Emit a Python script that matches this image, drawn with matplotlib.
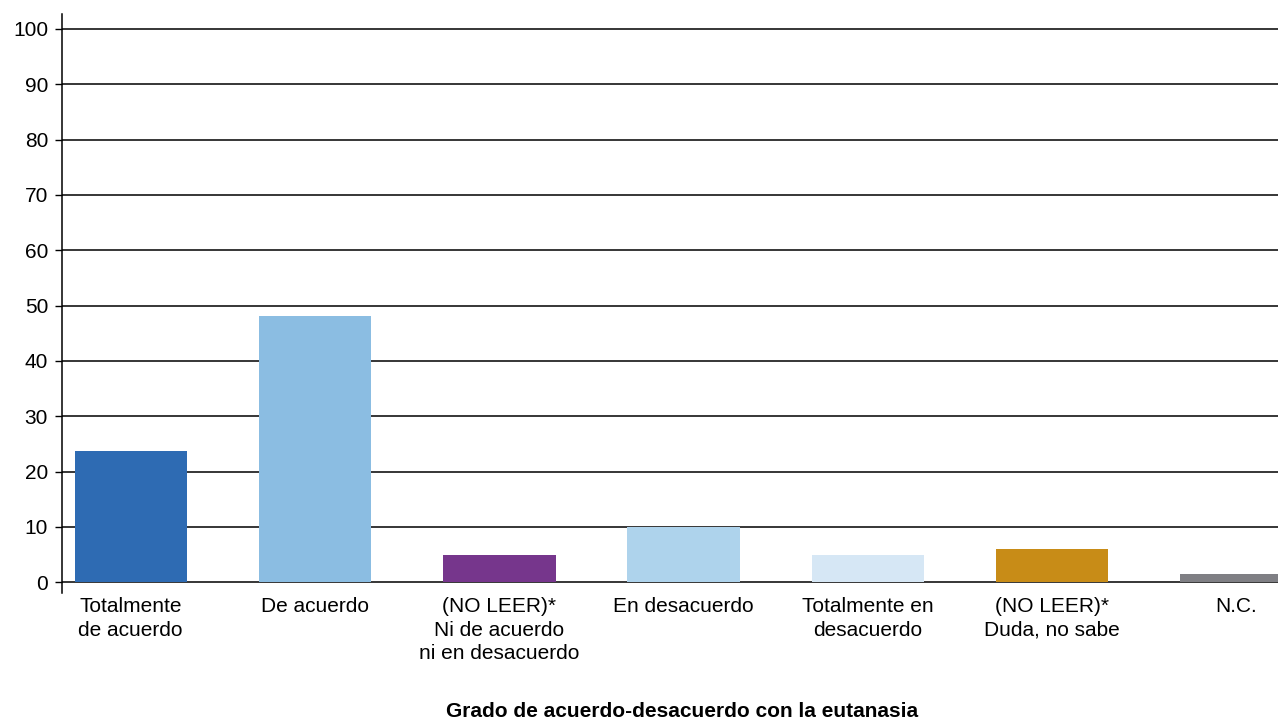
import matplotlib.pyplot as plt

plt.rcParams['font.family'] = ['Liberation Sans', 'DejaVu Sans']

categorias = ["Totalmente\nde acuerdo", "De acuerdo", "(NO LEER)*\nNi de acuerdo\nni en desacuerdo",
              "En desacuerdo", "Totalmente en\ndesacuerdo", "(NO LEER)*\nDuda, no sabe", "N.C."]
valores = [23.8, 48.2, 5.0, 9.9, 5.0, 6.0, 1.5]
colores = ["#2E6BB3", "#8BBDE2", "#76368C", "#AED3EC", "#D6E7F5", "#C88C17", "#7F7F84"]
yticks = [0, 10, 20, 30, 40, 50, 60, 70, 80, 90, 100]

fig = plt.figure(figsize=(12.78, 7.2), dpi=100)
ax = fig.add_axes([0.0485, 0.176, 0.9515, 0.8046])

x = range(len(categorias))
ax.bar(x, valores, width=0.61, color=colores, zorder=3)

ax.set_xlim(-0.373, 6.225)
ax.set_ylim(-2, 102.7)
ax.set_yticks(yticks)
ax.set_xticks(list(x))
ax.set_xticklabels(categorias, fontsize=15, linespacing=1.28, va='top')
ax.tick_params(axis='x', length=0, pad=3)
ax.tick_params(axis='y', length=5, width=1, labelsize=15, pad=5)
ax.grid(axis='y', color='black', linewidth=1.1, zorder=0)

for s in ['top', 'right', 'bottom']:
    ax.spines[s].set_visible(False)
ax.spines['left'].set_linewidth(1.1)

fig.text(0.534, 0.0045, "Grado de acuerdo-desacuerdo con la eutanasia", ha='center', va='baseline',
         fontsize=15, fontweight='bold')

plt.savefig("out.png", dpi=100)
